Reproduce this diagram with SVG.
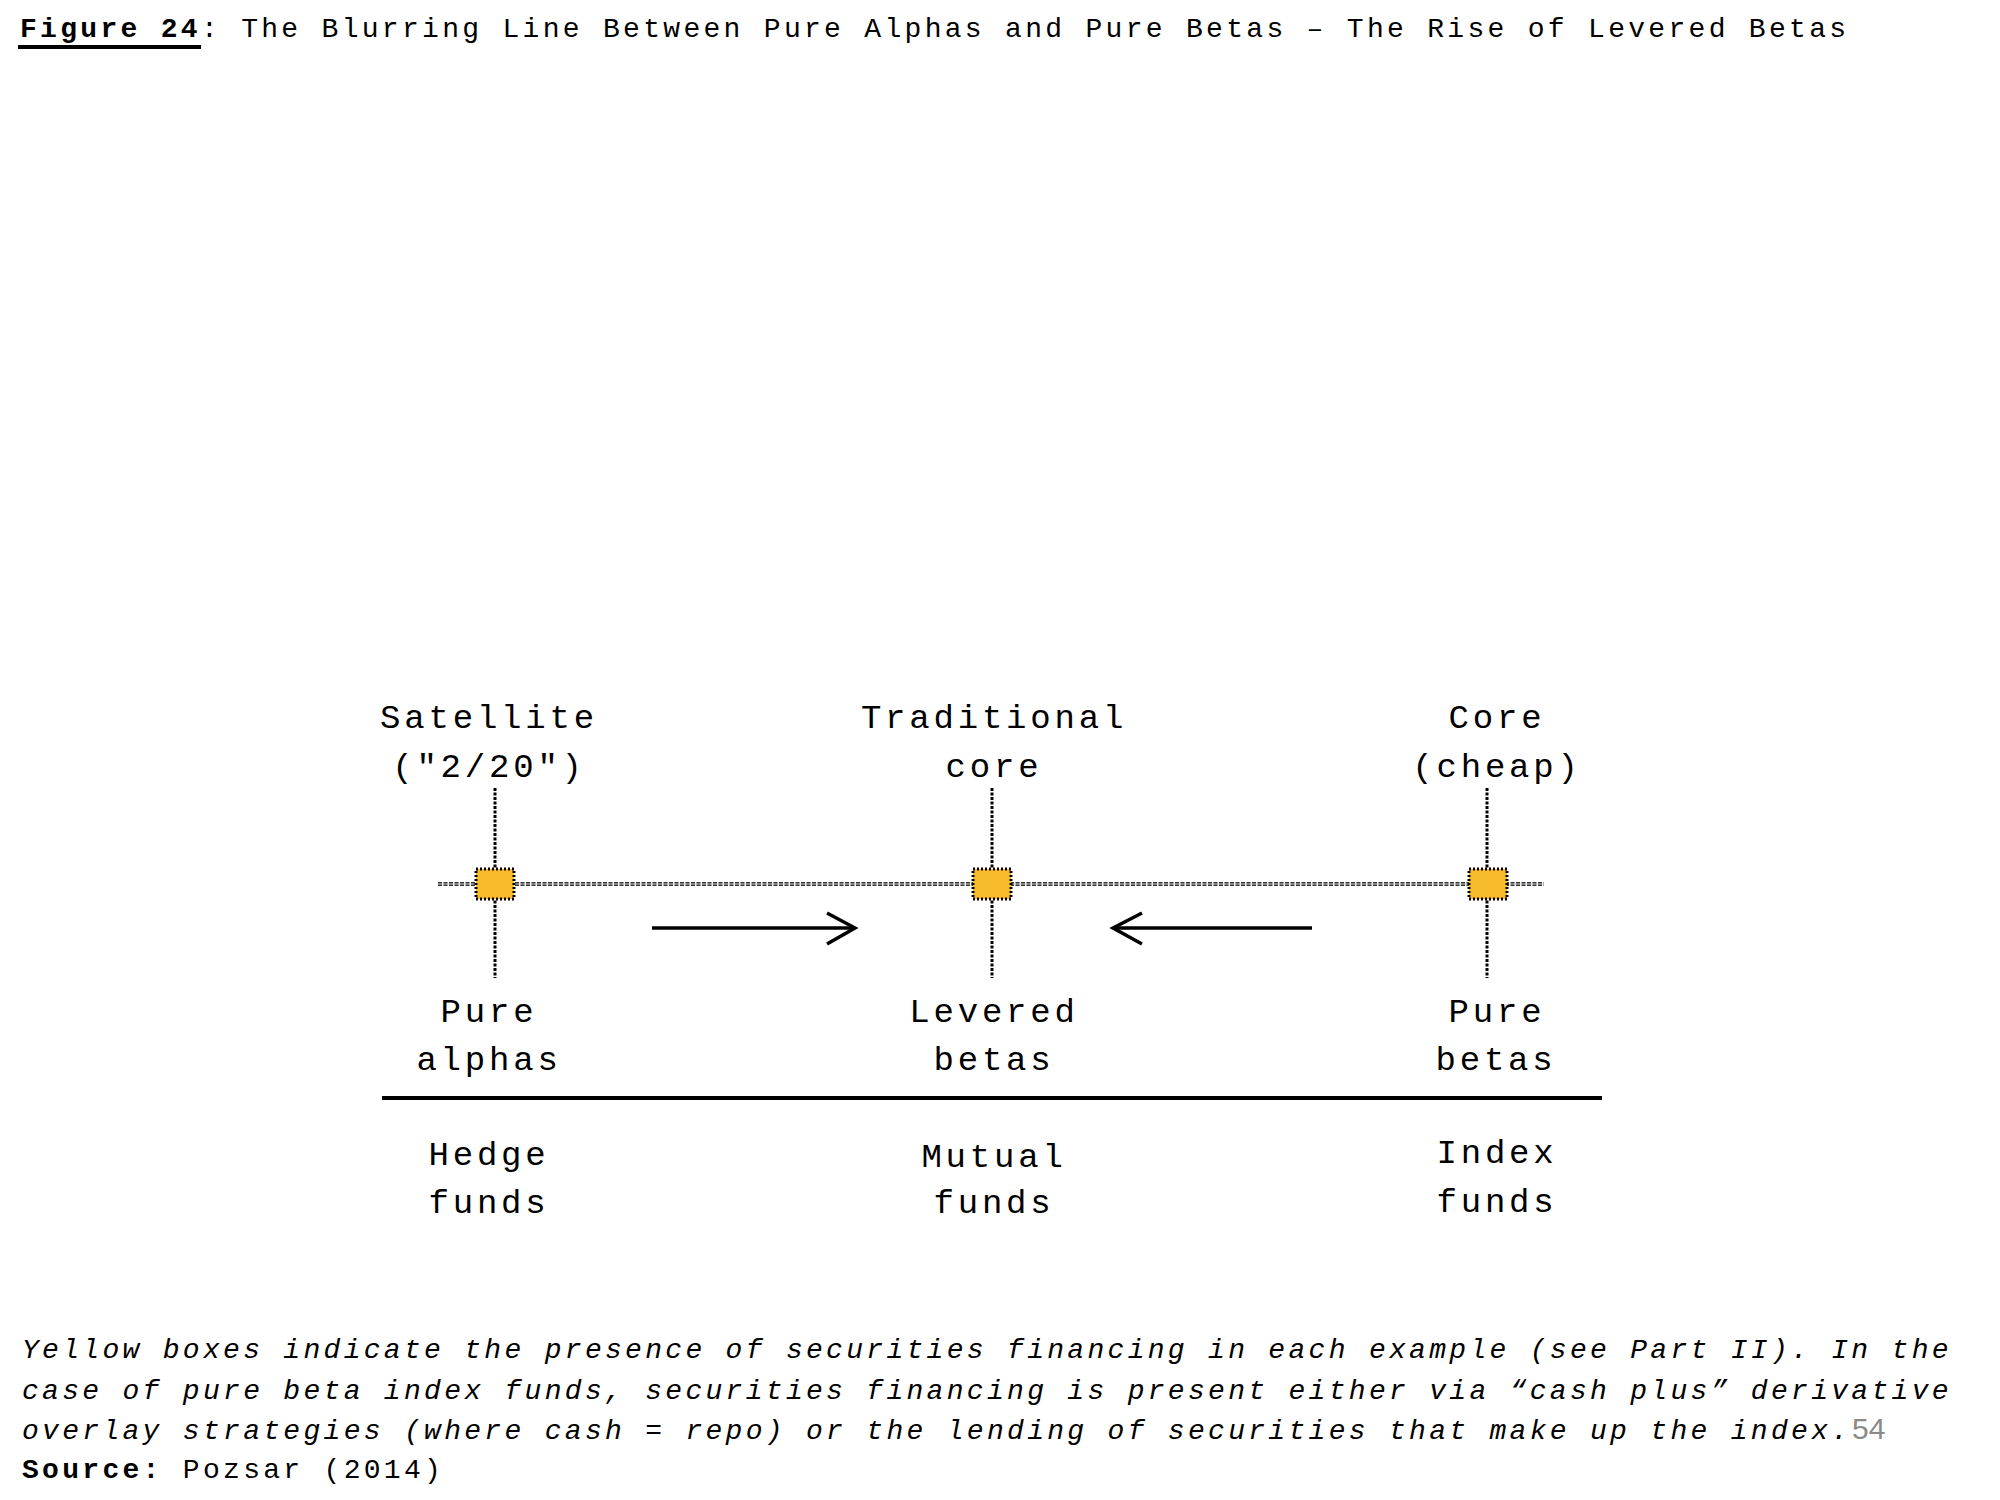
<svg xmlns="http://www.w3.org/2000/svg" width="2000" height="1500" viewBox="0 0 2000 1500">
<style>
  .t { font-family: "Liberation Mono", "Courier New", monospace; fill: #000; }
  .title { font-size: 28px; letter-spacing: 3.3px; }
  .lbl { font-size: 34px; letter-spacing: 3.8px; text-anchor: middle; }
  .note { font-size: 28px; letter-spacing: 3.3px; font-style: italic; }
  .src { font-size: 28px; letter-spacing: 3.3px; }
  .b { font-weight: bold; }
  .vdot { stroke: #000; stroke-width: 3; stroke-dasharray: 3 1.5; fill: none; }
  .hdot { stroke: #333; stroke-width: 4; stroke-dasharray: 4 1.5; fill: none; }
  .hmid { stroke: #d8d8d8; stroke-width: 1; fill: none; }
  .box { fill: #F8BB2B; stroke: #000; stroke-width: 3; stroke-dasharray: 2 2; }
  .arrow { stroke: #000; stroke-width: 3.5; fill: none; }
  .rule { stroke: #000; stroke-width: 4; }
</style>

<g id="title">
  <text class="t title" x="20" y="37"><tspan class="b">Figure 24</tspan>: The Blurring Line Between Pure Alphas and Pure Betas – The Rise of Levered Betas</text>
  <rect x="18" y="45" width="183" height="4" fill="#000"/>
</g>

<g id="connectors">
  <line class="hdot" x1="438" y1="884" x2="1544" y2="884"/>
  <line class="hmid" x1="438" y1="884" x2="1544" y2="884"/>
  <line class="vdot" x1="495" y1="788" x2="495" y2="978"/>
  <line class="vdot" x1="992" y1="788" x2="992" y2="978"/>
  <line class="vdot" x1="1487" y1="788" x2="1487" y2="978"/>
  <g id="arrow-right">
    <line class="arrow" x1="652" y1="928" x2="854" y2="928"/>
    <polyline class="arrow" points="827,913 855,928 827,944"/>
  </g>
  <g id="arrow-left">
    <line class="arrow" x1="1114" y1="928" x2="1312" y2="928"/>
    <polyline class="arrow" points="1142,913 1113,928 1142,944"/>
  </g>
  <line class="rule" x1="382" y1="1098" x2="1602" y2="1098"/>
</g>

<g id="node-satellite">
  <text class="t lbl" x="489" y="728">Satellite</text>
  <text class="t lbl" x="489" y="777">("2/20")</text>
  <rect class="box" x="476" y="869" width="38" height="30"/>
  <text class="t lbl" x="489" y="1022">Pure</text>
  <text class="t lbl" x="489" y="1070">alphas</text>
  <text class="t lbl" x="489" y="1165">Hedge</text>
  <text class="t lbl" x="489" y="1213">funds</text>
</g>

<g id="node-traditional">
  <text class="t lbl" x="994" y="728">Traditional</text>
  <text class="t lbl" x="994" y="777">core</text>
  <rect class="box" x="973" y="869" width="38" height="30"/>
  <text class="t lbl" x="994" y="1022">Levered</text>
  <text class="t lbl" x="994" y="1070">betas</text>
  <text class="t lbl" x="994" y="1167">Mutual</text>
  <text class="t lbl" x="994" y="1213">funds</text>
</g>

<g id="node-core">
  <text class="t lbl" x="1497" y="728">Core</text>
  <text class="t lbl" x="1497" y="777">(cheap)</text>
  <rect class="box" x="1469" y="869" width="38" height="30"/>
  <text class="t lbl" x="1497" y="1022">Pure</text>
  <text class="t lbl" x="1496" y="1070">betas</text>
  <text class="t lbl" x="1497" y="1163">Index</text>
  <text class="t lbl" x="1497" y="1212">funds</text>
</g>

<g id="footnote">
  <text class="t note" x="22" y="1358">Yellow boxes indicate the presence of securities financing in each example (see Part II). In the</text>
  <text class="t note" x="22" y="1399">case of pure beta index funds, securities financing is present either via “cash plus” derivative</text>
  <text class="t note" x="22" y="1439">overlay strategies (where cash = repo) or the lending of securities that make up the index.</text>
  <text x="1852" y="1439" style="font-family: 'Liberation Sans', Arial, sans-serif; fill: #8a8a8a; font-size: 30px;">54</text>
  <text class="t src" x="22" y="1478"><tspan class="b">Source:</tspan> Pozsar (2014)</text>
</g>
</svg>
